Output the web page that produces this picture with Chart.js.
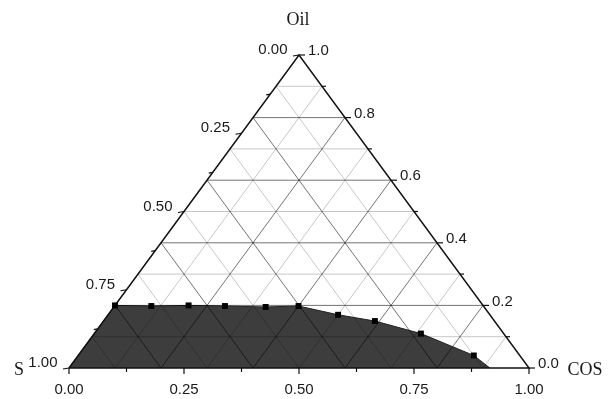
<!DOCTYPE html>
<html>
<head>
<meta charset="utf-8">
<script src="https://cdn.jsdelivr.net/npm/chart.js@4/dist/chart.umd.min.js"></script>
<style>
  html, body { margin: 0; padding: 0; background: #fff; }
  canvas { display: block; }
</style>
</head>
<body>
<canvas id="myChart" width="608" height="399"></canvas>
<script>
// phase boundary as (COS, Oil) fractions; S = 1 - COS - Oil
const cosFrac = [0.00, 0.08, 0.16, 0.24, 0.33, 0.40, 0.50, 0.59, 0.71, 0.86];
const oilFrac = [0.20, 0.198, 0.20, 0.198, 0.195, 0.198, 0.17, 0.15, 0.11, 0.04];
// where the shaded region meets the S-COS edge
const boundaryEndCos = 0.915;

const leftTicks = ["0.00", "0.25", "0.50", "0.75", "1.00"];    // S
const rightTicks = ["0.0", "0.2", "0.4", "0.6", "0.8", "1.0"]; // Oil
const bottomTicks = ["0.00", "0.25", "0.50", "0.75", "1.00"];  // COS
const gridSteps = [0.1, 0.2, 0.3, 0.4, 0.5, 0.6, 0.7, 0.8, 0.9];

// ternary (cos, oil) -> plain x/y for the hidden linear scales
const tern = (cos, oil) => ({ x: cos + oil / 2, y: oil });
const gap = { x: null, y: null };

const gridLines = (pick) => {
  const pts = [];
  gridSteps.forEach((g, i) => {
    if ((i % 2 === 1) !== pick) return;
    pts.push(tern(0, g), tern(1 - g, g), gap);         // oil constant
    pts.push(tern(g, 0), tern(g, 1 - g), gap);         // cos constant
    pts.push(tern(1 - g, 0), tern(0, 1 - g), gap);     // s constant
  });
  return pts;
};

const markers = cosFrac.map((c, i) => tern(c, oilFrac[i]));
const region = [tern(0, 0), ...markers, tern(boundaryEndCos, 0)];
const edges = [tern(0, 0), tern(1, 0), tern(0, 1), tern(0, 0)];

const axisDecor = {
  id: "axisDecor",
  afterDatasetsDraw(chart) {
    const { ctx } = chart;
    const sx = chart.scales.x, sy = chart.scales.y;
    const px = (cos, oil) => {
      const p = tern(cos, oil);
      return [sx.getPixelForValue(p.x), sy.getPixelForValue(p.y)];
    };
    ctx.save();
    ctx.strokeStyle = "#111";
    ctx.lineWidth = 1.2;
    const tick = (x, y, dx, dy) => {
      ctx.beginPath();
      ctx.moveTo(x, y);
      ctx.lineTo(x + dx, y + dy);
      ctx.stroke();
    };
    // left axis: S
    for (let k = 0; k <= 8; k++) {
      const s = k / 8;
      const [x, y] = px(0, 1 - s);
      const len = k % 2 === 0 ? 6 : 4;
      tick(x, y, -len, len / 6);
    }
    // right axis: Oil
    for (let k = 0; k <= 10; k++) {
      const o = k / 10;
      const [x, y] = px(1 - o, o);
      tick(x, y, k % 2 === 0 ? 6 : 4, 0);
    }
    // bottom axis: COS
    for (let k = 0; k <= 8; k++) {
      const c = k / 8;
      const [x, y] = px(c, 0);
      tick(x, y, 0, k % 2 === 0 ? 6 : 4);
    }

    ctx.fillStyle = "#1a1a1a";
    ctx.font = "15px 'Liberation Sans', Arial, sans-serif";
    ctx.textBaseline = "middle";
    ctx.textAlign = "right";
    leftTicks.forEach((t, i) => {
      const [x, y] = px(0, 1 - i / (leftTicks.length - 1));
      ctx.fillText(t, x - 11.5, y - 5);
    });
    ctx.textAlign = "left";
    rightTicks.forEach((t, i) => {
      const o = i / (rightTicks.length - 1);
      const [x, y] = px(1 - o, o);
      ctx.fillText(t, x + 9, y - 4);
    });
    ctx.textAlign = "center";
    bottomTicks.forEach((t, i) => {
      const [x, y] = px(i / (bottomTicks.length - 1), 0);
      ctx.fillText(t, x, y + 22);
    });

    ctx.font = "18px 'Liberation Serif', 'Times New Roman', serif";
    let [ax, ay] = px(0, 1);
    ctx.fillText("Oil", ax - 1, ay - 35);
    [ax, ay] = px(0, 0);
    ctx.fillText("S", ax - 50, ay + 2);
    [ax, ay] = px(1, 0);
    ctx.fillText("COS", ax + 56, ay + 2);
    ctx.restore();
  },
};

const ctx = document.getElementById("myChart").getContext("2d");
const chart = new Chart(ctx, {
  type: "line",
  data: {
    datasets: [
      {
        label: "points",
        data: markers,
        showLine: false,
        pointStyle: "rect",
        pointRadius: 4.2,
        pointBorderWidth: 0,
        pointBackgroundColor: "#000",
        clip: false,
        order: 0,
      },
      {
        label: "edges",
        data: edges,
        borderColor: "#111",
        borderWidth: 1.5,
        pointRadius: 0,
        clip: false,
        order: 1,
      },
      {
        label: "grid major",
        data: gridLines(true),
        borderColor: "rgba(0,0,0,0.55)",
        borderWidth: 1,
        pointRadius: 0,
        clip: false,
        order: 2,
      },
      {
        label: "grid minor",
        data: gridLines(false),
        borderColor: "rgba(0,0,0,0.22)",
        borderWidth: 1,
        pointRadius: 0,
        clip: false,
        order: 3,
      },
      {
        label: "region",
        data: region,
        fill: "origin",
        backgroundColor: "#3d3d3d",
        borderColor: "#222",
        borderWidth: 1,
        pointRadius: 0,
        clip: false,
        order: 4,
      },
    ],
  },
  options: {
    responsive: false,
    animation: false,
    layout: { autoPadding: false, padding: { left: 69, right: 79, top: 55, bottom: 31 } },
    scales: {
      x: { type: "linear", min: 0, max: 1, display: false },
      y: { type: "linear", min: 0, max: 1, display: false },
    },
    plugins: { legend: { display: false }, tooltip: { enabled: false } },
  },
  plugins: [axisDecor],
});
</script>
</body>
</html>
